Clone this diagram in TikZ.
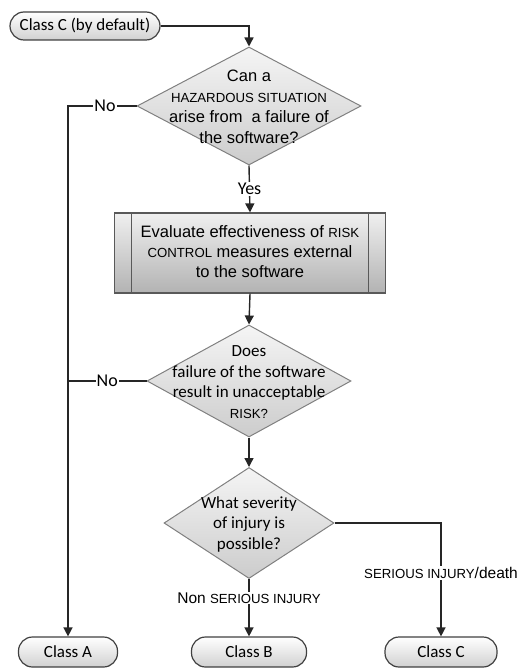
\documentclass[tikz,border=0pt]{standalone}
\usepackage{fontspec}
\setmainfont{Carlito}
\newfontfamily\arialf{Liberation Sans}
\usetikzlibrary{shapes.geometric,arrows.meta}
% smaller capitals for defined terms
\newcommand\smc{\fontsize{13.2}{20.5}\selectfont}

\tikzset{
  terminal/.style={draw=black!75, line width=1.2pt, rounded corners=14pt,
    top color=white, bottom color=black!18, inner sep=0pt,
    font=\fontsize{17}{19}\selectfont},
  decision/.style={shape=diamond, draw=black!50, line width=1pt,
    top color=black!4, bottom color=black!20, inner sep=0pt},
  qtext/.style={align=center, inner sep=0pt, font=\fontsize{17}{20.5}\selectfont},
  process/.style={draw=black!65, line width=1.2pt, top color=black!6,
    bottom color=black!30, inner sep=0pt},
  conn/.style={draw=black!85, line width=1.4pt},
  arr/.style={conn, -{Triangle[width=9pt,length=9pt]}},
  lbl/.style={fill=white, inner sep=1pt, font=\fontsize{18}{20}\selectfont},
  lblsmall/.style={lbl, font=\arialf\fontsize{15.5}{18}\selectfont}
}

\begin{document}
\begin{tikzpicture}[x=1pt,y=-1pt]
\useasboundingbox (0,0) rectangle (524,668);

% start and end terminals
\node[terminal, minimum width=150pt, minimum height=28pt] (start) at (85,26) {Class C (by default)};
\node[terminal, minimum width=99pt, minimum height=30pt] (classA) at (68,652) {Class A};
\node[terminal, minimum width=115pt, minimum height=30pt] (classB) at (249,652) {Class B};
\node[terminal, minimum width=112pt, minimum height=30pt] (classC) at (441,652) {Class C};

% decisions
\node[decision, minimum width=224pt, minimum height=118pt] (q1) at (249,106) {};
\node[qtext, font=\arialf\fontsize{16.5}{20.5}\selectfont] (q1t) at (249,107)
  {Can a\\{\smc HAZARDOUS SITUATION}\\arise from\ \ a failure of\\the software?};

\node[decision, minimum width=204pt, minimum height=112pt] (q2) at (249,381) {};
\node[qtext] (q2t) at (249,382) {Does\\failure of the software\\result in unacceptable\\{\arialf\smc RISK?}};

\node[decision, minimum width=170pt, minimum height=111pt] (q3) at (249,523) {};
\node[qtext] (q3t) at (249,524) {What severity\\of injury is\\possible?};

% process box with side bars
\node[process, minimum width=271pt, minimum height=80pt] (eval) at (250,253) {};
\draw[draw=black!65, line width=1pt] ([xshift=18pt]eval.north west) -- ([xshift=18pt]eval.south west)
  ([xshift=-18pt]eval.north east) -- ([xshift=-18pt]eval.south east);
\node[qtext, font=\arialf\fontsize{16.5}{20}\selectfont] (evalt) at (250,252)
  {Evaluate effectiveness of {\smc RISK}\\{\smc CONTROL} measures external\\to the software};

% connectors
\draw[arr] (start.east) -| (q1.north);
\draw[arr] (q1.south) -- node[lbl, pos=0.5] (yes) {Yes} (eval.north);
\draw[arr] (q1.west) -| node[lbl, pos=0.23] (no1) {No} (classA.north);
\draw[conn] (q2.west) -- node[lbl, pos=0.5] (no2) {No} (q2.west -| classA.north);
\draw[arr] (eval.south) -- (q2.north);
\draw[arr] (q2.south) -- (q3.north);
\draw[arr] (q3.south) -- node[lblsmall, pos=0.33] (nsi) {Non {\smc SERIOUS INJURY}} (classB.north);
\draw[arr] (q3.east) -| node[lblsmall, pos=0.72] (sid) {{\smc SERIOUS INJURY}/death} (classC.north);
\end{tikzpicture}
\end{document}
